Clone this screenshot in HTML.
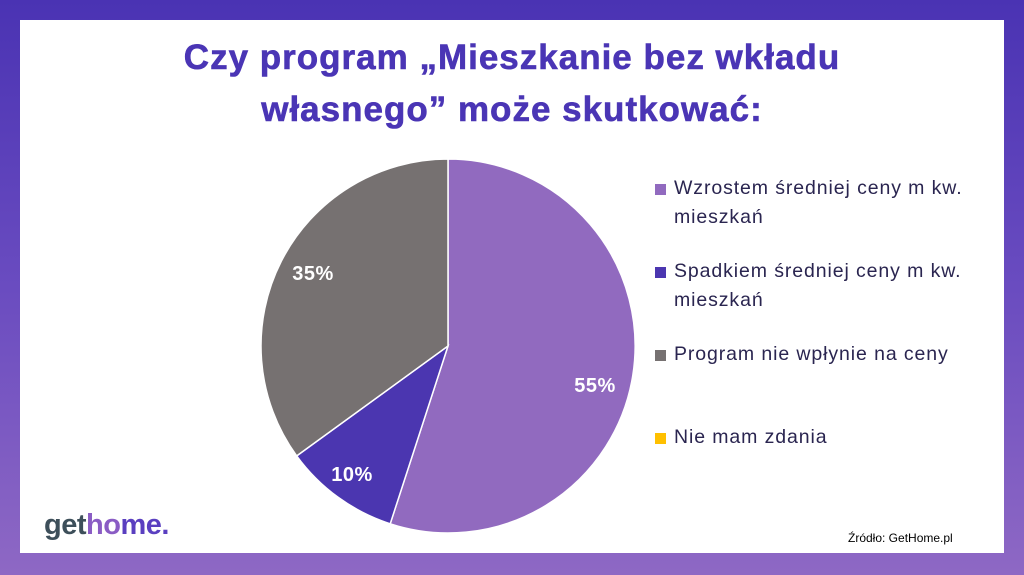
<!DOCTYPE html>
<html><head><meta charset="utf-8"><style>
html,body{margin:0;padding:0}
body{width:1024px;height:575px;position:relative;overflow:hidden;background:linear-gradient(180deg,#4a33b3 0%,#6a4cc0 50%,#8e68c4 100%);font-family:"Liberation Sans",sans-serif}
.panel{position:absolute;left:20px;top:20px;width:984px;height:533px;background:#fff}
.title{position:absolute;left:0;width:1024px;text-align:center;color:#4a35b5;font-weight:bold;font-size:35px;letter-spacing:1px;line-height:52px;top:32px;-webkit-text-stroke:0.6px #4a35b5}
.leg{position:absolute;left:655px;color:#2a2550;font-size:19.5px;letter-spacing:0.9px;line-height:29px}
.sq{position:absolute;left:0;top:10px;width:11px;height:11px}
.leg span.t{display:block;padding-left:19px}
.logo{position:absolute;left:44px;top:509px;font-size:29px;font-weight:bold;letter-spacing:-0.5px}
.src{position:absolute;left:848px;top:531px;font-size:12px;color:#000}
</style></head><body>
<div class="panel"></div>
<div class="title">Czy program „Mieszkanie bez wkładu<br>własnego” może skutkować:</div>
<svg width="1024" height="575" style="position:absolute;left:0;top:0">
<path d="M448,346 L448,159 A187,187 0 1 1 390.2,523.8 Z" fill="#916abf" stroke="#fff" stroke-width="1.5"/>
<path d="M448,346 L390.2,523.8 A187,187 0 0 1 296.7,455.9 Z" fill="#4b36b0" stroke="#fff" stroke-width="1.5"/>
<path d="M448,346 L296.7,455.9 A187,187 0 0 1 448,159 Z" fill="#767171" stroke="#fff" stroke-width="1.5"/>
<g fill="#fff" font-family="Liberation Sans" font-weight="bold" font-size="20" letter-spacing="0.5">
<text x="595" y="392" text-anchor="middle">55%</text>
<text x="352" y="481" text-anchor="middle">10%</text>
<text x="313" y="280" text-anchor="middle">35%</text>
</g>
</svg>
<div class="leg" style="top:174px"><div class="sq" style="background:#916abf"></div><span class="t">Wzrostem średniej ceny m kw.<br>mieszkań</span></div>
<div class="leg" style="top:257px"><div class="sq" style="background:#4b36b0"></div><span class="t">Spadkiem średniej ceny m kw.<br>mieszkań</span></div>
<div class="leg" style="top:340px"><div class="sq" style="background:#767171"></div><span class="t">Program nie wpłynie na ceny</span></div>
<div class="leg" style="top:423px"><div class="sq" style="background:#ffc000"></div><span class="t">Nie mam zdania</span></div>
<div class="logo"><span style="color:#3d4f5a">get</span><span style="color:#8a5cc4">ho</span><span style="color:#5a3fc0">me.</span></div>
<div class="src">Źródło: GetHome.pl</div>
</body></html>
